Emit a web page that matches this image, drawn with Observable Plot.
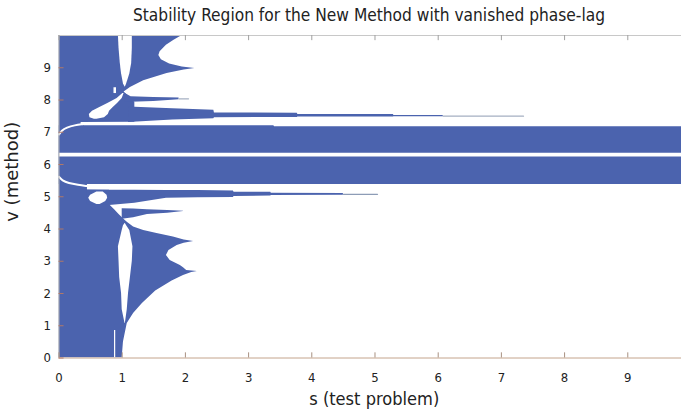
<!DOCTYPE html>
<html><head><meta charset="utf-8">
<script src="https://cdn.jsdelivr.net/npm/d3@7"></script>
<script src="https://cdn.jsdelivr.net/npm/@observablehq/plot@0.6"></script>
<style>
body{margin:0;background:#fff;}
#wrap{width:681px;height:413px;overflow:hidden;}
svg{display:block;}
</style></head><body><div id="wrap"></div>
<script>
const titleText = "Stability Region for the New Method with vanished phase-lag";
const xLabel = "s (test problem)";
const yLabel = "v (method)";
const xTicks = [0,1,2,3,4,5,6,7,8,9];
const yTicks = [0,1,2,3,4,5,6,7,8,9];

// right edge of the stable region attached to s = 0 : [v, s]
const columnEdge = [
  [0,1.0],[0.5,1.02],[1.07,1.08],[1.38,1.18],[1.69,1.32],[2.08,1.53],[2.39,1.79],[2.56,1.97],
  [2.65,2.1],[2.68,2.19],[2.71,2.02],[2.8,1.97],[2.87,1.92],[3.02,1.76],[3.18,1.70],[3.33,1.74],
  [3.49,1.87],[3.56,1.98],[3.61,2.13],[3.66,1.98],[3.75,1.81],[3.86,1.55],[3.95,1.34],[4.06,1.18],
  [4.21,1.08],[4.28,1.04],[4.45,0.95],[4.6,0.88],[4.75,0.8],[5.2,0.8],[5.21,0.45],[5.38,0.45],
  [5.39,0.4],[7.2,0.4],[7.21,0.35],[7.3,0.35],[7.31,1.2],[7.93,1.2],[8.05,1.13],[8.17,1.07],
  [8.25,1.03],[8.39,1.13],[8.6,1.34],[8.82,1.71],[8.93,1.98],[8.98,2.15],[9.02,1.95],[9.12,1.75],
  [9.25,1.62],[9.38,1.58],[9.5,1.6],[9.7,1.7],[9.85,1.82],[10,1.95]
];
// horizontal fingers and bands : [s, v1, v2]
const finger45 = [[1.0,4.3,4.63],[1.18,4.35,4.62],[1.4,4.45,4.6],[1.72,4.49,4.57],[1.97,4.545,4.55]];
const finger5 = [[0.45,4.75,5.2],[0.8,4.73,5.2],[1.2,4.8,5.2],[1.7,4.95,5.19],[2.2,4.97,5.19],[2.76,4.98,5.18],
  [2.77,5.01,5.14],[3.35,5.02,5.14],[3.36,5.04,5.11],[4.5,5.05,5.1]];
const bands = [[0,5.38,7.2],[3.4,5.38,7.2],[3.41,5.38,7.17],[9.85,5.38,7.17]];
const finger75 = [[1.1,7.3,7.78],[1.8,7.38,7.73],[2.45,7.42,7.68],[2.46,7.45,7.6],[3.77,7.46,7.59],
  [3.78,7.47,7.55],[5.29,7.47,7.55],[5.3,7.48,7.52],[6.08,7.48,7.52]];
const finger8 = [[1.05,7.93,8.2],[1.14,7.93,8.1],[1.5,7.95,8.08],[1.9,8.01,8.06]];
// faint tails of fingers : [s, v]
const tail5 = [[4.5,5.075],[5.04,5.075]];
const tail75 = [[6.08,7.5],[7.35,7.5]];
const tail8 = [[1.9,8.035],[2.05,8.035]];
// unstable holes : [v, s1, s2]
const lowerSlit = [[1.07,1.045,1.05],[1.5,1.0,1.08],[2.0,0.99,1.1],[2.5,0.96,1.13],[3.0,0.95,1.16],
  [3.45,0.94,1.17],[3.95,1.0,1.12],[4.1,1.02,1.07],[4.17,1.045,1.05]];
const upperSlit = [[8.4,1.045,1.05],[8.5,1.02,1.07],[8.81,0.99,1.12],[9.13,0.97,1.15],[9.6,0.95,1.16],[10,0.94,1.16]];
const lens75 = [[7.4,0.56,0.6],[7.45,0.49,0.72],[7.55,0.48,0.78],[7.65,0.53,0.8],[7.75,0.63,0.85],
  [7.9,0.78,0.93],[8.05,0.92,1.0],[8.2,1.01,1.03]];
const bubble5 = [[4.76,0.6,0.65],[4.85,0.5,0.74],[4.95,0.47,0.77],[5.05,0.5,0.76],[5.15,0.6,0.7]];
const fleck = [[8.2,0.87,0.91],[8.38,0.87,0.91]];
const stripe = [[0,6.23,6.35],[9.85,6.23,6.35]];
const slitLine = [{s:0.88, v1:0, v2:0.85}];
const curveLow = [[0,5.62],[0.05,5.5],[0.15,5.42],[0.3,5.37],[0.45,5.33]];
const curveHigh = [[0,6.93],[0.04,7.05],[0.12,7.15],[0.25,7.22],[0.38,7.25]];

const BLUE = "#4b63ae";
const FONT = "'Liberation Sans Narrow','DejaVu Sans Condensed','Liberation Sans',Arial,sans-serif";

const wrap = document.getElementById("wrap");
// title
const tsvg = d3.create("svg").attr("width",681).attr("height",28);
tsvg.append("text").attr("x",369).attr("y",21).attr("text-anchor","middle")
  .attr("font-family",FONT).attr("font-size",18).attr("fill","#222")
  .attr("textLength",472).attr("lengthAdjust","spacingAndGlyphs").text(titleText);
wrap.appendChild(tsvg.node());

const plot = Plot.plot({
  width: 681, height: 385,
  marginLeft: 58.5, marginRight: 0, marginTop: 7, marginBottom: 55.5,
  style: {fontFamily: FONT, fontSize: "13px", background: "white", color: "#222"},
  x: {domain: [0, 9.85], axis: null},
  y: {domain: [0, 10], axis: null},
  marks: [
    Plot.areaX(columnEdge, {y: d=>d[0], x1: 0, x2: d=>d[1], fill: BLUE, clip: true}),
    Plot.areaY(bands, {x: d=>d[0], y1: d=>d[1], y2: d=>d[2], fill: BLUE, clip: true}),
    Plot.areaY(finger45, {x: d=>d[0], y1: d=>d[1], y2: d=>d[2], fill: BLUE}),
    Plot.areaY(finger5, {x: d=>d[0], y1: d=>d[1], y2: d=>d[2], fill: BLUE}),
    Plot.areaY(finger75, {x: d=>d[0], y1: d=>d[1], y2: d=>d[2], fill: BLUE}),
    Plot.areaY(finger8, {x: d=>d[0], y1: d=>d[1], y2: d=>d[2], fill: BLUE}),
    Plot.line(tail5, {x: d=>d[0], y: d=>d[1], stroke: "#8d9cb6", strokeWidth: 1.2}),
    Plot.line(tail75, {x: d=>d[0], y: d=>d[1], stroke: "#a5b0c2", strokeWidth: 1.2}),
    Plot.line(tail8, {x: d=>d[0], y: d=>d[1], stroke: "#a5b0c2", strokeWidth: 1.2}),
    Plot.areaX(lowerSlit, {y: d=>d[0], x1: d=>d[1], x2: d=>d[2], fill: "white"}),
    Plot.areaX(upperSlit, {y: d=>d[0], x1: d=>d[1], x2: d=>d[2], fill: "white"}),
    Plot.areaX(lens75, {y: d=>d[0], x1: d=>d[1], x2: d=>d[2], fill: "white"}),
    Plot.areaX(bubble5, {y: d=>d[0], x1: d=>d[1], x2: d=>d[2], fill: "white"}),
    Plot.areaX(fleck, {y: d=>d[0], x1: d=>d[1], x2: d=>d[2], fill: "white"}),
    Plot.areaY(stripe, {x: d=>d[0], y1: d=>d[1], y2: d=>d[2], fill: "white", clip: true}),
    Plot.ruleX(slitLine, {x: "s", y1: "v1", y2: "v2", stroke: "white", strokeWidth: 1.2}),
    Plot.line(curveLow, {x: d=>d[0], y: d=>d[1], stroke: "white", strokeWidth: 2, curve: "basis"}),
    Plot.line(curveHigh, {x: d=>d[0], y: d=>d[1], stroke: "white", strokeWidth: 2, curve: "basis"}),
    // frame
    Plot.ruleY([10], {stroke: "#c8c8c8"}),
    Plot.ruleX([0], {stroke: "#b0b0b0"}),
    Plot.ruleY([0], {stroke: "#c4a48c"}),
    // inward ticks
    Plot.ruleX(xTicks, {x: d=>d, y1: 0, y2: 0.16, stroke: "#a89080"}),
    Plot.ruleX(xTicks, {x: d=>d, y1: 10, y2: 9.84, stroke: "#a0a0a0"}),
    Plot.ruleY(yTicks, {y: d=>d, x1: 0, x2: 0.08, stroke: "#b07868"}),
    // tick labels
    Plot.axisX({ticks: xTicks, tickSize: 0, tickPadding: 15, tickFormat: d=>String(d), fontSize: 13, label: null}),
    Plot.axisY({ticks: yTicks, tickSize: 0, tickPadding: 8, tickFormat: d=>String(d), fontSize: 13, label: null}),
    Plot.text([xLabel], {text: d=>d, frameAnchor: "bottom", dy: 42, dx: 4, fontSize: 17, lineAnchor: "middle"}),
    Plot.text([yLabel], {text: d=>d, frameAnchor: "left", dx: -46, dy: 25, rotate: -90, fontSize: 17})
  ]
});
wrap.appendChild(plot);
d3.select(plot).selectAll("text").filter(function(){return this.textContent===xLabel;})
  .attr("textLength",130).attr("lengthAdjust","spacingAndGlyphs");
d3.select(plot).selectAll("text").filter(function(){return this.textContent===yLabel;})
  .attr("textLength",100).attr("lengthAdjust","spacingAndGlyphs");
</script></body></html>
